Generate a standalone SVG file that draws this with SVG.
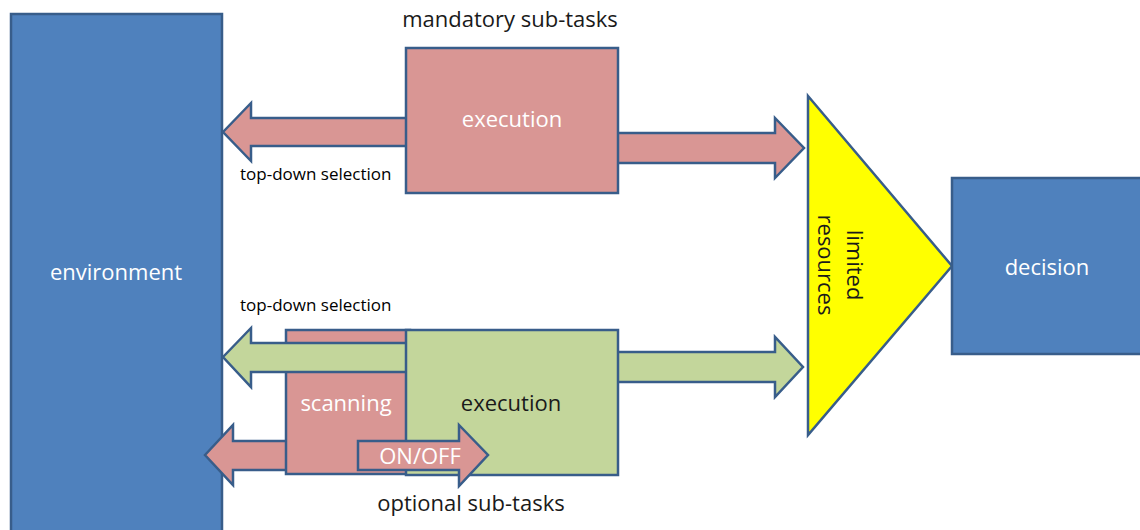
<svg xmlns="http://www.w3.org/2000/svg" width="1140" height="530" viewBox="0 0 1140 530">
<style>
.blue{fill:#4F81BD;stroke:#385D8A;stroke-width:2.5}
.pink{fill:#D99694;stroke:#385D8A;stroke-width:2.5;stroke-linejoin:miter}
.green{fill:#C3D69B;stroke:#385D8A;stroke-width:2.5;stroke-linejoin:miter}
.yellow{fill:#FFFF00;stroke:#385D8A;stroke-width:2.5}
text{font-family:"Open Sans","Liberation Sans",sans-serif}
.w{fill:#FFFFFF;font-size:22px;text-anchor:middle}
.k{fill:#1A1A1A;font-size:22px;text-anchor:middle}
.s{fill:#000000;font-size:17px}
</style>
<rect width="1140" height="530" fill="#FFFFFF"/>
<g id="environment">
<rect class="blue" x="11" y="14" width="211" height="530"/>
<text class="w" x="116" y="280">environment</text>
</g>
<g id="connectors-back">
<polygon class="pink" points="223,132 251,103 251,118 410,118 410,146 251,146 251,161"/>
<polygon class="pink" points="614,133 775,133 775,118 804,148 775,178 775,163 614,163"/>
<polygon class="pink" points="205,455 233,425 233,441 290,441 290,470 233,470 233,485"/>
</g>
<g id="execution-mandatory">
<rect class="pink" x="406" y="48" width="212" height="145"/>
<text class="w" x="512" y="127">execution</text>
</g>
<text class="k" x="510" y="27">mandatory sub-tasks</text>
<text class="s" x="240" y="180">top-down selection</text>
<g id="limited-resources">
<polygon class="yellow" points="808,96 952,266 808,435"/>
<text class="k" transform="translate(847,265) rotate(90)" x="0" y="0">limited</text>
<text class="k" transform="translate(847,265) rotate(90)" x="0" y="29">resources</text>
</g>
<g id="decision">
<rect class="blue" x="952" y="178" width="200" height="176"/>
<text class="w" x="1047" y="275">decision</text>
</g>
<g id="scanning">
<rect class="pink" x="286" y="330" width="124" height="144"/>
<text class="w" x="346" y="411">scanning</text>
</g>
<g id="connectors-front">
<polygon class="green" points="223,357 251,328 251,343 410,343 410,372 251,372 251,387"/>
<polygon class="green" points="614,352 775,352 775,337 803,367 775,397 775,382 614,382"/>
</g>
<g id="execution-optional">
<rect class="green" x="406" y="330" width="212" height="145"/>
<text class="k" x="511" y="411">execution</text>
</g>
<g id="on-off">
<polygon class="pink" points="358,441 459,441 459,425 488,455 459,486 459,470 358,470"/>
<text class="w" x="420" y="464">ON/OFF</text>
</g>
<text class="s" x="240" y="311">top-down selection</text>
<text class="k" x="471" y="511">optional sub-tasks</text>
</svg>
